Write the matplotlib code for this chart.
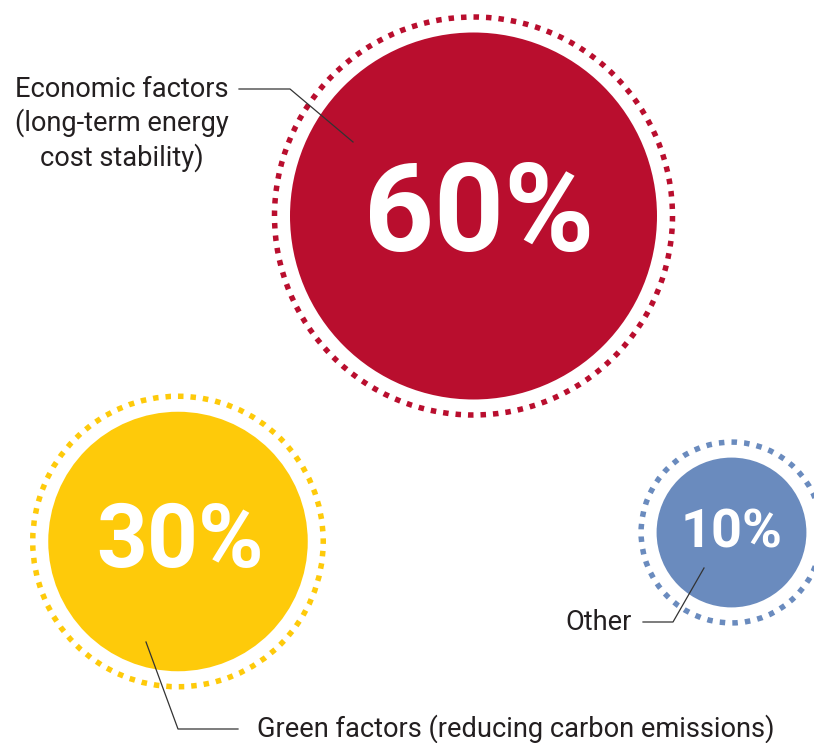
import numpy as np
import matplotlib.pyplot as plt
from matplotlib.patches import Circle

# Share of respondents by main motivation
values = [60, 30, 10]
pct_labels = ["60%", "30%", "10%"]
colors = ["#B90E2E", "#FECA0A", "#6A8BBE"]
labels = ["Economic factors\n(long-term energy\ncost stability)",
          "Green factors (reducing carbon emissions)",
          "Other"]

# layout (pixels, y down)
centers = [(473.5, 216), (178, 541.5), (731.5, 532.5)]
pct_dx = [6, 2, 0]     # small horizontal nudge of the % text
pct_sizes = [88, 64, 39]
r_max = 183.5          # radius of the biggest bubble
ring_gap = 15.5        # disc edge -> dotted ring centerline
ring_w = 5.5           # dot size in px
dot_step = 12.5        # dot spacing in px

W, H = 814, 743
fig = plt.figure(figsize=(W / 100, H / 100), dpi=100)
ax = fig.add_axes([0, 0, 1, 1])
ax.set_xlim(0, W)
ax.set_ylim(H, 0)
ax.set_aspect("equal")
ax.axis("off")

px2pt = 72 / 100
for v, c, (cx, cy), dx, txt, fs in zip(values, colors, centers, pct_dx, pct_labels, pct_sizes):
    r = r_max * np.sqrt(v / values[0])
    ax.add_patch(Circle((cx, cy), r, color=c, lw=0))
    rr = r + ring_gap
    n = int(round(2 * np.pi * rr / dot_step))
    period = 2 * np.pi * rr / n           # px
    on = ring_w
    lw_pt = ring_w * px2pt
    # dash lengths are scaled by linewidth
    dash = (on / ring_w, (period - on) / ring_w)
    ring = Circle((cx, cy), rr, fill=False, ec=c, lw=lw_pt,
                  linestyle=(0, dash), capstyle="butt")
    ax.add_patch(ring)
    ax.text(cx + dx, cy + 1, txt, color="white", fontsize=fs, fontfamily="Roboto",
            fontweight="bold", ha="center", va="center")

lab_kw = dict(color="#231F20", fontsize=19.6, fontfamily="Roboto", fontweight="normal")
line_kw = dict(color="#333333", lw=0.9)

# Economic factors
ax.text(122, 76, labels[0], ha="center", va="top", linespacing=1.25, **lab_kw)
ax.plot([239, 290, 353], [89, 89, 142], **line_kw)

# Green factors
ax.text(257, 737, labels[1], ha="left", va="baseline", **lab_kw)
ax.plot([146, 178, 238], [642, 729, 729], **line_kw)

# Other
ax.text(565, 630, labels[2], ha="left", va="baseline", **lab_kw)
ax.plot([643, 673, 704], [622, 622, 568], **line_kw)

fig.savefig("out.png", dpi=100, facecolor="white")
